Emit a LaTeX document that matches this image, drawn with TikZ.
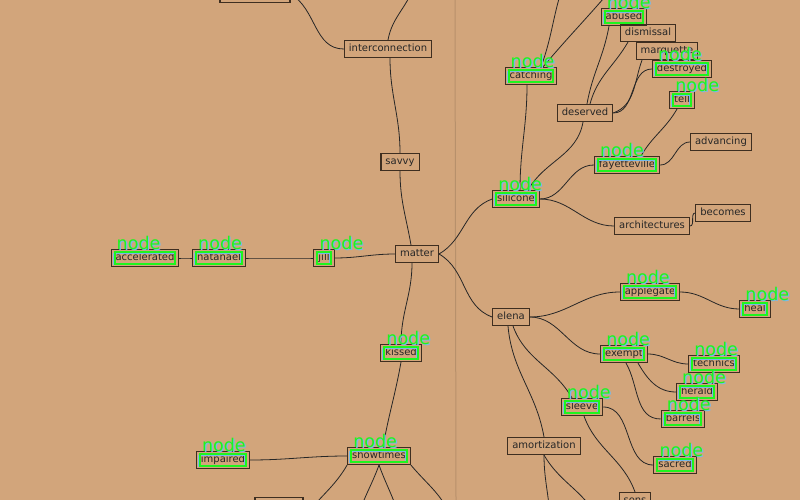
\documentclass[tikz,border=0pt]{standalone}
\usepackage{fontspec}
\setmainfont{DejaVu Sans}
\definecolor{paper}{RGB}{210,165,123}
\definecolor{boxline}{RGB}{62,46,32}
\definecolor{tagline}{RGB}{30,245,30}
\definecolor{tagshade}{RGB}{120,185,235}

\begin{document}
\begin{tikzpicture}[x=1pt,y=-1pt,
  topic/.style={draw=boxline,line width=1.1pt,inner xsep=4.5pt,inner ysep=3.5pt,
    text height=7.5pt,text depth=2.5pt,font=\fontsize{10}{12}\selectfont,text=black!85},
  link/.style={line width=0.8pt,draw=black!85},
  tagbox/.style={line width=2pt,draw=tagline},
  tagshadow/.style={line width=1.6pt,draw=tagshade},
  taglabel/.style={font=\fontsize{17.5}{18}\selectfont,anchor=base west,inner sep=0pt}]
  \useasboundingbox (0,0) rectangle (800,500);
  \fill[paper] (0,0) rectangle (800,500);
  \draw[paper!75!black,opacity=.5,line width=1pt] (455,0) -- (456,500);

  % left branch
  \node[topic,minimum width=70pt] (hidtop) at (255,-6) {};
  \node[topic] (interconnection) at (388,49) {interconnection};
  \node[topic] (savvy) at (400,162) {savvy};
  \node[topic] (matter) at (417,254) {matter};
  \node[topic] (jill) at (324,258) {jill};
  \node[topic] (natanael) at (219,258) {natanael};
  \node[topic] (accelerated) at (145,258) {accelerated};
  \node[topic] (kissed) at (401,353) {kissed};
  \node[topic] (showtimes) at (379,456) {showtimes};
  \node[topic] (impaired) at (223,460) {impaired};
  \node[topic,minimum width=48pt] (hidbottom) at (279,506) {};
  % right branch
  \node[topic] (catching) at (531,76) {catching};
  \node[topic] (abused) at (624,17) {abused};
  \node[topic] (dismissal) at (648,33) {dismissal};
  \node[topic] (marquette) at (667,51) {marquette};
  \node[topic] (destroyed) at (682,69) {destroyed};
  \node[topic] (tell) at (682,100) {tell};
  \node[topic] (deserved) at (585,113) {deserved};
  \node[topic] (silicone) at (516,199) {silicone};
  \node[topic] (fayetteville) at (627,165) {fayetteville};
  \node[topic] (advancing) at (721,142) {advancing};
  \node[topic] (architectures) at (652,226) {architectures};
  \node[topic] (becomes) at (723,213) {becomes};
  \node[topic] (elena) at (511,317) {elena};
  \node[topic] (applegate) at (650,292) {applegate};
  \node[topic] (heal) at (755,309) {heal};
  \node[topic] (exempt) at (624,354) {exempt};
  \node[topic] (technics) at (714,364) {technics};
  \node[topic] (herald) at (697,392) {herald};
  \node[topic] (barrels) at (683,419) {barrels};
  \node[topic] (sleeve) at (582,407) {sleeve};
  \node[topic] (amortization) at (544,446) {amortization};
  \node[topic] (sacred) at (675,465) {sacred};
  \node[topic] (sons) at (635,501) {sons};

  % loose ends beyond the page
  \coordinate (upA) at (415,-20);
  \coordinate (upB) at (565,-20);
  \coordinate (upC) at (615,-15);
  \coordinate (downA) at (300,525);
  \coordinate (downB) at (355,530);
  \coordinate (downC) at (402,530);
  \coordinate (downD) at (452,520);
  \coordinate (downE) at (550,525);
  \coordinate (downF) at (600,525);

  \draw[link] (hidtop.east) to[out=-30,in=180] (interconnection.west);
  \draw[link] (interconnection.north) to[out=80,in=-100] (upA);
  \draw[link] ([xshift=2pt]interconnection.south) to[out=-90,in=90] (savvy.north);
  \draw[link] (savvy.south) to[out=-90,in=100] ([xshift=-6pt]matter.north);
  \draw[link] (matter.west) to[out=180,in=0] (jill.east);
  \draw[link] (jill.west) to[out=180,in=0] (natanael.east);
  \draw[link] (natanael.west) to[out=180,in=0] (accelerated.east);
  \draw[link] ([xshift=-5pt]matter.south) to[out=-90,in=90] (kissed.north);
  \draw[link] (kissed.south) to[out=-100,in=80] ([xshift=4pt]showtimes.north);
  \draw[link] (showtimes.west) to[out=180,in=0] (impaired.east);
  \draw[link] (showtimes.south west) to[out=-120,in=60] (downA);
  \draw[link] (showtimes.south) to[out=-110,in=80] (downB);
  \draw[link] (showtimes.south) to[out=-70,in=100] (downC);
  \draw[link] (showtimes.south east) to[out=-50,in=110] (downD);

  \draw[link] (matter.east) to[out=30,in=200] (silicone.west);
  \draw[link] (matter.east) to[out=-30,in=160] (elena.west);
  \draw[link] ([xshift=4pt]silicone.north) to[out=90,in=-90] ([xshift=-4pt]catching.south);
  \draw[link] ([xshift=10pt]catching.north) to[out=70,in=-110] (upB);
  \draw[link] ([xshift=12pt]catching.north) to[out=50,in=-130] (upC);
  \draw[link] ([xshift=12pt]silicone.north) to[out=60,in=-100] ([xshift=-2pt]deserved.south);
  \draw[link] ([xshift=2pt]deserved.north) to[out=80,in=-100] ([xshift=-15pt]abused.south);
  \draw[link] ([xshift=5pt]deserved.north) to[out=75,in=-120] ([xshift=-20pt]dismissal.south);
  \draw[link] (deserved.east) to[out=20,in=-110] ([xshift=-25pt]marquette.south);
  \draw[link] (deserved.east) to[out=0,in=180] (destroyed.west);
  \draw[link] (silicone.east) to[out=0,in=180] (fayetteville.west);
  \draw[link] ([xshift=14pt]fayetteville.north) to[out=60,in=-120] ([xshift=-5pt]tell.south);
  \draw[link] (fayetteville.east) to[out=0,in=180] (advancing.west);
  \draw[link] (silicone.east) to[out=0,in=180] (architectures.west);
  \draw[link] (architectures.east) to[out=0,in=180] (becomes.west);

  \draw[link] (elena.east) to[out=0,in=180] (applegate.west);
  \draw[link] (applegate.east) to[out=0,in=180] (heal.west);
  \draw[link] (elena.east) to[out=0,in=180] (exempt.west);
  \draw[link] (exempt.east) to[out=0,in=180] (technics.west);
  \draw[link] ([xshift=14pt]exempt.south) to[out=-60,in=180] (herald.west);
  \draw[link] ([xshift=2pt]exempt.south) to[out=-60,in=180] (barrels.west);
  \draw[link] ([xshift=2pt]elena.south) to[out=-70,in=120] ([xshift=-10pt]sleeve.north);
  \draw[link] (sleeve.east) to[out=0,in=180] (sacred.west);
  \draw[link] ([xshift=2pt]sleeve.south) to[out=-70,in=110] (sons.north);
  \draw[link] ([xshift=-3pt]elena.south) to[out=-85,in=100] (amortization.north);
  \draw[link] (amortization.south) to[out=-90,in=90] (downE);
  \draw[link] (amortization.south) to[out=-60,in=110] (downF);

  % detector tags
  \foreach \n in {abused,catching,destroyed,tell,silicone,fayetteville,accelerated,natanael,jill,
      applegate,heal,exempt,technics,herald,barrels,sleeve,sacred,kissed,showtimes,impaired}{
    \draw[tagshadow] ([shift={(3pt,2.5pt)}]\n.south west) rectangle ([shift={(-5pt,-4.5pt)}]\n.north east);
    \draw[tagbox] ([shift={(4pt,3.5pt)}]\n.south west) rectangle ([shift={(-4pt,-3.5pt)}]\n.north east);
    \node[taglabel,text=tagshade] (shade-\n) at ([shift={(7.2pt,-2pt)}]\n.north west) {node};
    \node[taglabel,text=tagline] (tag-\n) at ([shift={(6pt,-1pt)}]\n.north west) {node};
  }
\end{tikzpicture}
\end{document}
